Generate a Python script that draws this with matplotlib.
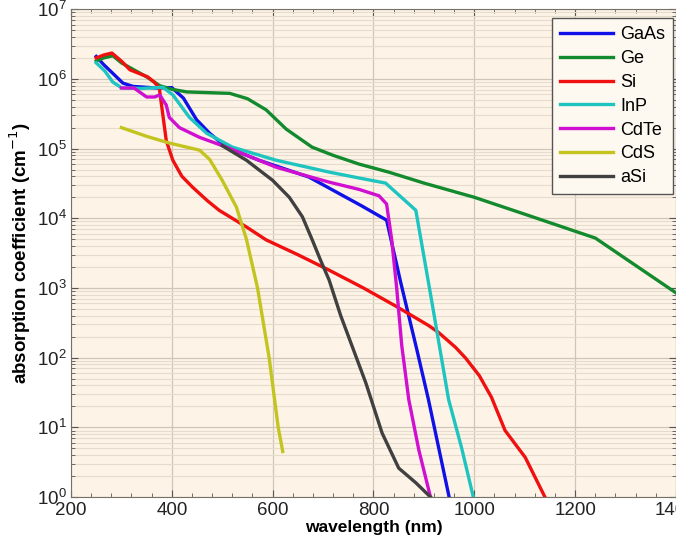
import numpy as np
import matplotlib.pyplot as plt
from matplotlib.ticker import MultipleLocator, LogLocator, NullFormatter

plt.rcParams['font.family'] = ['Liberation Sans', 'DejaVu Sans']

# wavelength (nm) / absorption coefficient (cm^-1)
gaas_x = [250, 265, 283, 303, 323, 370, 400, 423, 449, 475, 508, 573, 672, 777, 826, 854, 886, 909, 950]
gaas_y = [2.1e6, 1.6e6, 1.2e6, 8.7e5, 7.8e5, 7.4e5, 7.5e5, 5.3e5, 2.6e5, 1.66e5, 1.05e5, 6.8e4, 3.9e4,
          1.5e4, 9.4e3, 1.2e3, 130, 25, 1.0]

ge_x = [250, 265, 283, 300, 350, 376, 400, 430, 515, 550, 587, 627, 678, 720, 771, 830, 900, 1000, 1107,
        1240, 1400]
ge_y = [1.8e6, 2.0e6, 2.15e6, 1.7e6, 1.07e6, 8e5, 7.1e5, 6.5e5, 6.2e5, 5.2e5, 3.6e5, 1.9e5, 1.05e5, 8e4,
        6e4, 4.6e4, 3.2e4, 2e4, 1.1e4, 5.2e3, 8.5e2]

si_x = [250, 265, 281, 300, 317, 352, 365, 375, 380, 389, 402, 420, 441, 470, 494, 548, 587, 650, 712, 780,
        844, 909, 929, 963, 983, 1010, 1034, 1061, 1101, 1140]
si_y = [2.0e6, 2.2e6, 2.35e6, 1.8e6, 1.35e6, 1.07e6, 9e5, 7.5e5, 4e5, 1.3e5, 6.8e4, 4e4, 2.8e4, 1.8e4,
        1.3e4, 7.5e3, 4.9e3, 3e3, 1.8e3, 1.0e3, 5.5e2, 2.9e2, 2.3e2, 1.4e2, 98, 55, 27, 9, 3.7, 1.0]

inp_x = [250, 267, 283, 301, 340, 370, 382, 402, 435, 469, 520, 607, 712, 770, 824, 884, 915, 949, 975, 998]
inp_y = [1.7e6, 1.3e6, 9e5, 7.4e5, 7.3e5, 7.5e5, 7.6e5, 5.9e5, 2.8e5, 1.66e5, 1.05e5, 6.8e4, 4.6e4, 3.8e4,
         3.2e4, 1.3e4, 6.8e2, 25, 5, 1.0]

cdte_x = [300, 325, 350, 366, 376, 389, 395, 415, 455, 508, 607, 712, 771, 811, 826, 836, 846, 856, 870, 890, 913]
cdte_y = [7.4e5, 7.4e5, 5.5e5, 5.5e5, 5.9e5, 4.2e5, 2.8e5, 2.0e5, 1.45e5, 1.05e5, 5.4e4, 3.3e4, 2.6e4,
          2.1e4, 1.6e4, 5e3, 1e3, 150, 25, 4.7, 1.0]

cds_x = [300, 350, 395, 455, 475, 500, 528, 548, 570, 593, 611, 620]
cds_y = [2.0e5, 1.5e5, 1.2e5, 9.5e4, 7e4, 3.5e4, 1.45e4, 5e3, 1e3, 1e2, 10, 4.5]

asi_x = [500, 548, 600, 633, 659, 678, 695, 712, 735, 757, 785, 817, 850, 884, 913]
asi_y = [1.1e5, 6.8e4, 3.5e4, 2e4, 1.05e4, 5e3, 2.5e3, 1.3e3, 4e2, 1.5e2, 43, 8.3, 2.6, 1.6, 1.0]

names = ['GaAs', 'Ge', 'Si', 'InP', 'CdTe', 'CdS', 'aSi']
colors = ['#1010e8', '#138a2e', '#f01010', '#1ec4c0', '#d010d0', '#c4c420', '#404040']
series = [(gaas_x, gaas_y), (ge_x, ge_y), (si_x, si_y), (inp_x, inp_y),
          (cdte_x, cdte_y), (cds_x, cds_y), (asi_x, asi_y)]

fig = plt.figure(figsize=(6.76, 5.42), dpi=100)
ax = fig.add_axes([0.105, 0.083, 0.895, 0.900])
ax.set_facecolor('#fdf4e7')

for (x, y), name, c in zip(series, names, colors):
    ax.plot(x, y, color=c, lw=2.4, label=name)

ax.set_yscale('log')
ax.set_xlim(200, 1400)
ax.set_ylim(1, 1e7)
ax.xaxis.set_major_locator(MultipleLocator(200))
ax.xaxis.set_minor_locator(MultipleLocator(40))
ax.yaxis.set_major_locator(LogLocator(base=10, numticks=10))
ax.yaxis.set_minor_locator(LogLocator(base=10, subs=np.arange(2, 10), numticks=10))
ax.yaxis.set_minor_formatter(NullFormatter())

ax.grid(True, which='major', color='#cfc6b8', lw=0.9)
ax.grid(True, which='minor', axis='y', color='#e6dccd', lw=0.8)
ax.tick_params(which='both', direction='in', top=True, right=True, colors='#555555',
               labelcolor='#222222', labelsize=13.5)
ax.tick_params(axis='y', pad=3)
ax.tick_params(which='major', length=5)
ax.tick_params(which='minor', length=3)
for s in ax.spines.values():
    s.set_color('#777066')

ax.set_xlabel('wavelength (nm)', fontsize=12.5, fontweight='bold', labelpad=1)
ax.set_ylabel('absorption coefficient (cm$^{-1}$)', fontsize=13.5, fontweight='bold', labelpad=3)

leg = ax.legend(loc='upper right', fontsize=13, handlelength=2.9, handletextpad=0.4,
                labelspacing=0.38, borderpad=0.45, fancybox=False, framealpha=1,
                bbox_to_anchor=(673 / 676, 1 - 18 / 542), bbox_transform=fig.transFigure,
                borderaxespad=0)
leg.get_frame().set_edgecolor('#555555')
leg.get_frame().set_facecolor('#fdf8f0')

fig.savefig('out.png', dpi=100)
